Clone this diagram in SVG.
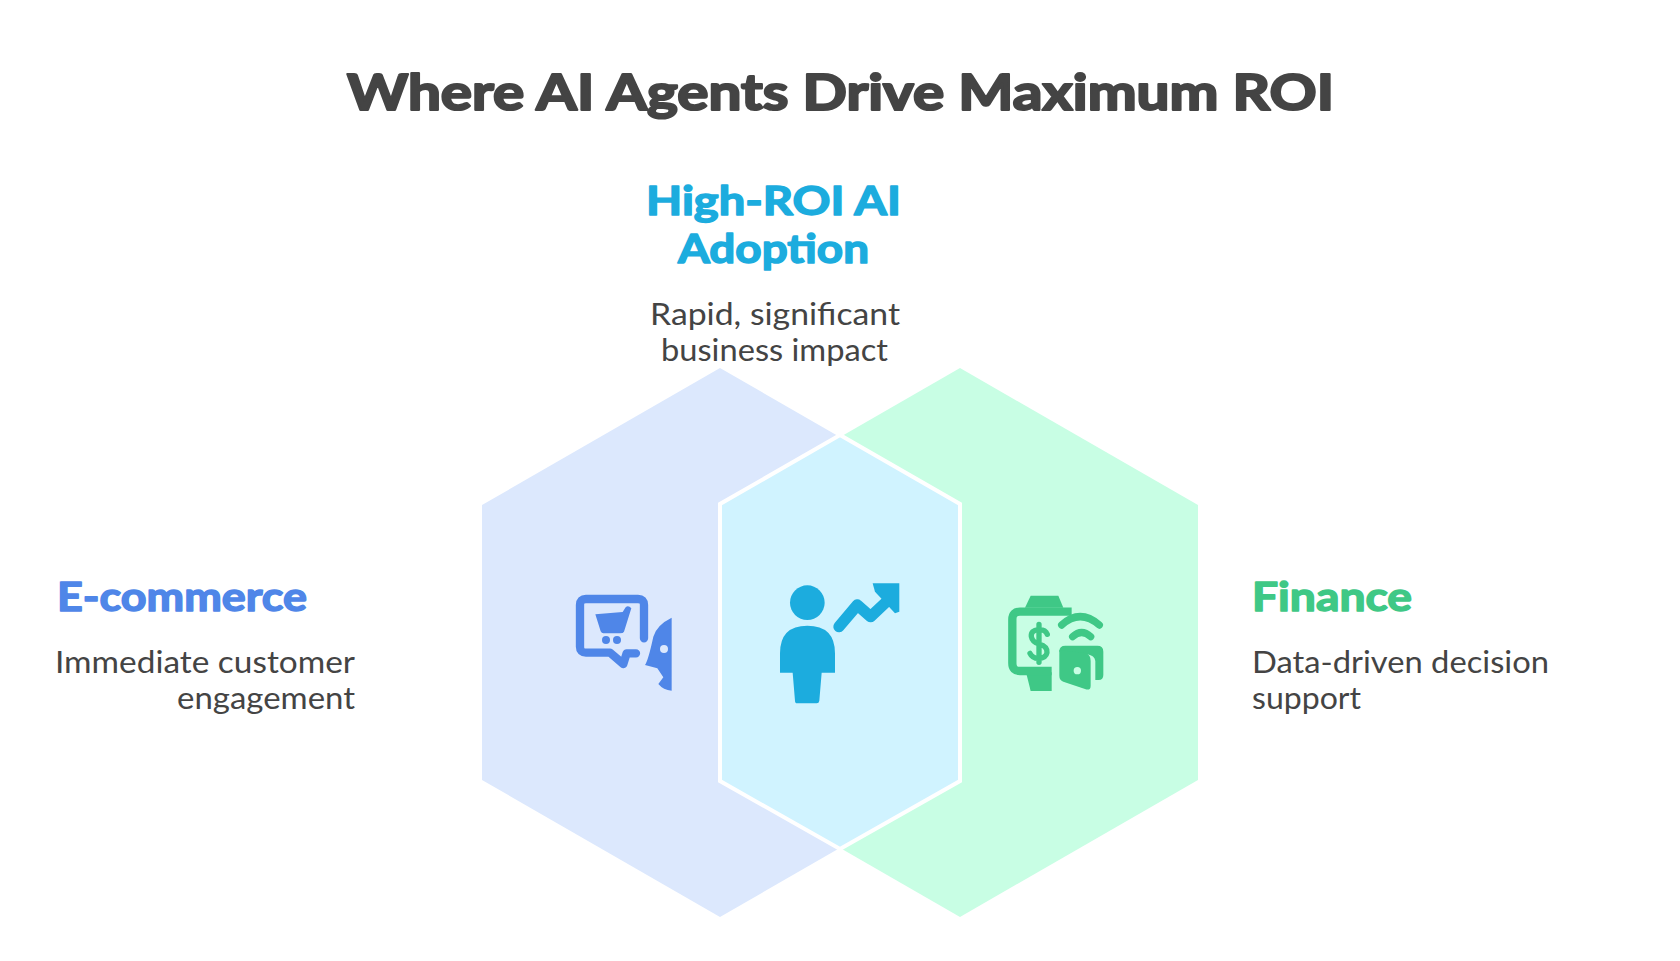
<svg xmlns="http://www.w3.org/2000/svg" width="1680" height="961" viewBox="0 0 1680 961">
<style>
text{font-family:"Lato","Noto Sans",sans-serif}
.title{font-size:50px;font-weight:700;fill:#444;stroke:#444;stroke-width:2.2px;stroke-linejoin:round}
.head{font-size:40px;font-weight:700;stroke-width:1.5px;stroke-linejoin:round}
.body{font-size:31px;fill:#444}
.blue{fill:#4F86E8;stroke:#4F86E8}
.cyan{fill:#1CACDE;stroke:#1CACDE}
.green{fill:#3FC886;stroke:#3FC886}
.ln{fill:none;stroke-linecap:round;stroke-linejoin:round}
</style>
<rect width="1680" height="961" fill="#fff"/>
<g id="title"><text class="title" x="347" y="110" textLength="987" lengthAdjust="spacingAndGlyphs">Where AI Agents Drive Maximum ROI</text></g>
<g id="hexagons">
<polygon points="720,368 958,505 958,780 720,917 482,780 482,505" fill="#DCE8FD"/>
<polygon points="960,368 1198,505 1198,780 960,917 722,780 722,505" fill="#C8FEE4"/>
<polygon points="840,435 960,504 960,781 840,849 720,781 720,504" fill="#D0F3FF" stroke="#fff" stroke-width="4"/>
</g>
<g id="node-adoption">
<text class="head cyan" x="646" y="215" textLength="255" lengthAdjust="spacingAndGlyphs">High-ROI AI</text>
<text class="head cyan" x="678" y="263" textLength="191" lengthAdjust="spacingAndGlyphs">Adoption</text>
<text class="body" x="650" y="325" textLength="250" lengthAdjust="spacingAndGlyphs">Rapid, significant</text>
<text class="body" x="661" y="361" textLength="227" lengthAdjust="spacingAndGlyphs">business impact</text>
<g transform="translate(760,570) scale(.3333)">
<circle cx="142" cy="98" r="52" fill="#1CACDE"/>
<path fill="#1CACDE" d="M60 308V250Q60 167 142 167Q225 167 225 250V308H185L178 392Q177 400 170 400H112Q105 400 105 392L98 308Z"/>
<path class="ln" stroke="#1CACDE" stroke-width="34" d="M237 170L292 105L332 140L385 90"/>
<path fill="#1CACDE" d="M338 40H418V125L405 130L345 65Z"/>
</g>
</g>
<g id="node-ecommerce">
<text class="head blue" x="57" y="611" textLength="250" lengthAdjust="spacingAndGlyphs">E-commerce</text>
<text class="body" x="55" y="673" textLength="300" lengthAdjust="spacingAndGlyphs">Immediate customer</text>
<text class="body" x="177" y="709" textLength="178" lengthAdjust="spacingAndGlyphs">engagement</text>
<g transform="translate(560,570) scale(.3333)">
<path class="ln" stroke="#4F86E8" stroke-width="25" d="M252 205V105Q252 87 234 87H78Q60 87 60 105V230Q60 248 78 248H150L190 282L200 250H228"/>
<path fill="#4F86E8" d="M106 133L188 126L197 112Q205 105 214 115L192 185Q190 190 180 190H130Q125 190 122 184Z"/>
<circle cx="138" cy="210" r="12" fill="#4F86E8"/><circle cx="171" cy="210" r="12" fill="#4F86E8"/>
<path fill="#4F86E8" d="M335 143Q290 165 280 200Q265 270 255 285L292 295L310 322L295 342Q310 360 335 362Z"/>
<circle cx="312" cy="237" r="12" fill="#DCE8FD"/>
</g>
</g>
<g id="node-finance">
<text class="head green" x="1252" y="611" textLength="160" lengthAdjust="spacingAndGlyphs">Finance</text>
<text class="body" x="1252" y="673" textLength="297" lengthAdjust="spacingAndGlyphs">Data-driven decision</text>
<text class="body" x="1252" y="709" textLength="109" lengthAdjust="spacingAndGlyphs">support</text>
<g transform="translate(1000,585) scale(.3333)">
<path fill="#3FC886" d="M92 32H175L190 68H75Z"/>
<path fill="#3FC886" d="M78 262H155V318H92Z"/>
<path fill="none" stroke="#3FC886" stroke-width="25" d="M215 80H60Q37 80 37 103V235Q37 258 60 258H155"/>
<path class="ln" stroke="#3FC886" stroke-width="16" d="M142 148Q135 132 115 134Q92 136 94 155Q97 172 117 177Q143 184 141 203Q138 220 115 220Q97 220 90 205M117 118V232"/>
<path class="ln" stroke="#3FC886" stroke-width="22" d="M185 120Q240 70 298 120M218 155Q245 130 272 155"/>
<path fill="#3FC886" d="M178 200Q178 182 196 182H292Q310 182 310 200V270Q310 285 296 285H286V228Q284 212 262 208L178 200Z"/>
<path fill="#3FC886" d="M178 195L258 205Q272 210 272 228V302Q272 318 255 312L190 290Q178 286 178 272Z"/>
<circle cx="232" cy="257" r="11" fill="#C8FEE4"/>
</g>
</g>
<g id="connectors"/>
</svg>
